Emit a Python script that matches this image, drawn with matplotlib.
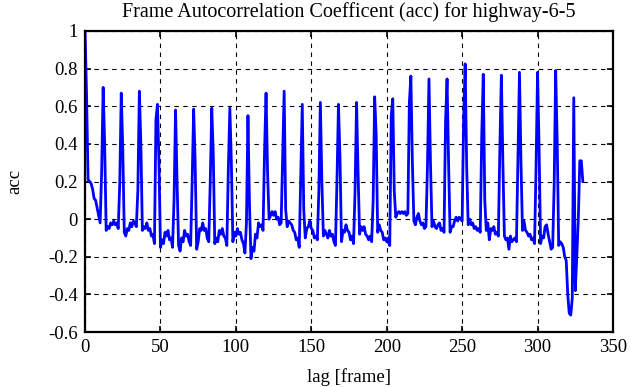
import matplotlib
matplotlib.use('Agg')
import matplotlib.pyplot as plt
import numpy as np

plt.rcParams['font.family'] = ['Liberation Serif', 'DejaVu Serif']

# frame autocorrelation coefficient, lag 0..330
acc = [
    1.00, 0.66, 0.21, 0.20, 0.19, 0.16, 0.11, 0.10, 0.06, 0.02,   # 0-9
    -0.02, 0.25, 0.70, 0.40, -0.06, -0.04, -0.05, -0.02, -0.03, -0.01,   # 10-19
    -0.03, -0.02, -0.05, 0.19, 0.67, 0.38, -0.07, -0.09, -0.05, -0.06,   # 20-29
    -0.02, -0.04, -0.01, -0.02, -0.04, 0.15, 0.68, 0.40, -0.06, -0.04,   # 30-39
    -0.05, -0.02, -0.06, -0.05, -0.09, -0.08, -0.13, 0.53, 0.61, 0.30,   # 40-49
    -0.15, -0.11, -0.13, -0.07, -0.09, -0.06, -0.11, -0.10, -0.15, 0.10,   # 50-59
    0.58, 0.20, -0.14, -0.17, -0.10, -0.12, -0.06, -0.09, -0.08, -0.12,   # 60-69
    -0.14, 0.20, 0.585, 0.30, -0.16, -0.12, -0.05, -0.06, -0.02, -0.06,   # 70-79
    -0.05, -0.10, -0.12, 0.20, 0.59, 0.35, -0.13, -0.10, -0.12, -0.06,   # 80-89
    -0.08, -0.05, -0.09, -0.10, -0.14, 0.27, 0.59, 0.30, -0.12, -0.07,   # 90-99
    -0.09, -0.05, -0.08, -0.07, -0.11, -0.13, -0.18, -0.02, 0.55, 0.08,   # 100-109
    -0.21, -0.15, -0.17, -0.08, -0.10, -0.02, -0.04, -0.03, -0.06, 0.36,   # 110-119
    0.67, 0.25, 0.00, 0.02, 0.04, 0.02, 0.04, 0.00, 0.01, -0.03,   # 120-129
    -0.02, 0.33, 0.68, 0.05, -0.04, -0.01, -0.02, -0.03, -0.06, -0.07,   # 130-139
    -0.11, -0.10, -0.15, 0.22, 0.61, 0.05, -0.10, -0.05, -0.04, -0.01,   # 140-149
    -0.05, -0.06, -0.10, -0.09, -0.11, 0.15, 0.62, 0.20, -0.09, -0.06,   # 150-159
    -0.08, -0.10, -0.06, -0.09, -0.08, -0.12, -0.14, 0.20, 0.61, 0.33,   # 160-169
    -0.12, -0.06, -0.07, -0.03, -0.06, -0.07, -0.11, -0.09, -0.13, 0.15,   # 170-179
    0.62, 0.25, -0.08, -0.04, -0.06, -0.04, -0.08, -0.09, -0.11, -0.09,   # 180-189
    -0.12, 0.10, 0.65, 0.45, -0.07, -0.03, -0.06, -0.07, -0.11, -0.10,   # 190-199
    -0.12, -0.10, -0.14, 0.55, 0.64, 0.15, 0.01, 0.03, 0.04, 0.03,   # 200-209
    0.04, 0.03, 0.04, 0.02, 0.03, 0.62, 0.76, 0.30, -0.01, -0.03,   # 210-219
    0.01, 0.03, -0.01, -0.03, -0.02, -0.05, -0.04, 0.28, 0.745, 0.30,   # 220-229
    -0.04, -0.01, -0.04, -0.05, -0.03, -0.02, -0.06, -0.05, -0.07, 0.52,   # 230-239
    0.745, 0.30, -0.07, -0.04, -0.04, -0.01, 0.01, -0.01, 0.01, 0.00,   # 240-249
    -0.01, 0.54, 0.825, 0.28, -0.03, 0.00, -0.03, -0.02, -0.05, -0.04,   # 250-259
    -0.06, -0.05, -0.07, 0.45, 0.77, 0.10, -0.06, -0.02, -0.11, -0.05,   # 260-269
    -0.06, -0.04, -0.08, -0.07, -0.09, 0.38, 0.765, 0.30, -0.09, -0.11,   # 270-279
    -0.10, -0.16, -0.09, -0.12, -0.11, -0.10, -0.12, 0.34, 0.78, 0.30,   # 280-289
    -0.06, -0.01, -0.06, -0.07, -0.09, -0.08, -0.11, -0.10, -0.13, 0.28,   # 290-299
    0.78, 0.38, -0.13, -0.09, -0.10, -0.04, -0.03, -0.08, -0.12, -0.16,   # 300-309
    -0.15, 0.18, 0.79, 0.42, -0.14, -0.12, -0.13, -0.15, -0.20, -0.22,   # 310-319
    -0.40, -0.50, -0.51, -0.42, 0.645, -0.38, -0.20, 0.00, 0.31, 0.31,   # 320-329
    0.20,                                                          # 330
]
lag = np.arange(len(acc))

fig = plt.figure(figsize=(6.3, 3.87), dpi=100)
ax = fig.add_axes([0.135, 0.142, 0.838, 0.778])

ax.plot(lag, acc, color='#0000ff', linewidth=2.0)

ax.set_xlim(0, 350)
ax.set_ylim(-0.6, 1.0)
ax.set_xticks(np.arange(0, 351, 50))
ax.set_yticks(np.arange(-0.6, 1.01, 0.2))
ax.set_yticklabels(['-0.6', '-0.4', '-0.2', '0', '0.2', '0.4', '0.6', '0.8', '1'])

ax.grid(True, color='black', linestyle=(0, (4, 4)), linewidth=0.8)
ax.tick_params(direction='in', length=4, width=1.2, top=True, right=True,
               labelsize=13.5, pad=5)
for s in ax.spines.values():
    s.set_linewidth(1.6)

ax.set_title('Frame Autocorrelation Coefficent (acc) for highway-6-5', fontsize=14.5, pad=10)
ax.set_xlabel('lag [frame]', fontsize=13.5, labelpad=9)
ax.set_ylabel('acc', fontsize=13.5, labelpad=18)

fig.savefig('out.png', dpi=100)
